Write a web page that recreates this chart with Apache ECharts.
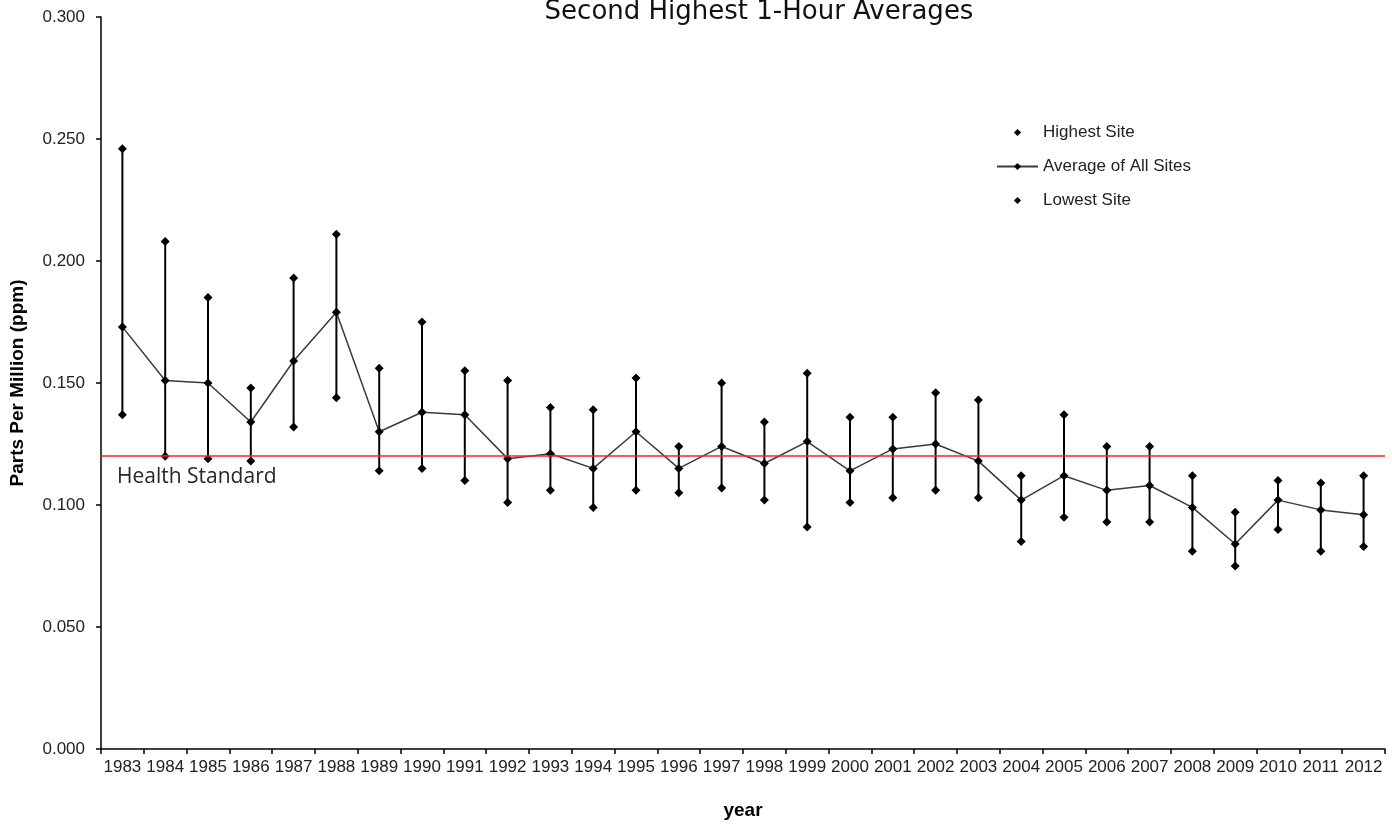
<!DOCTYPE html>
<html>
<head>
<meta charset="utf-8">
<title>Second Highest 1-Hour Averages</title>
<script src="https://cdn.jsdelivr.net/npm/echarts@6/dist/echarts.min.js"></script>
<style>
  html, body { margin: 0; padding: 0; background: #fff; }
  #chart { width: 1392px; height: 825px; }
</style>
</head>
<body>
<div id="chart"></div>
<script>
const years = ["1983", "1984", "1985", "1986", "1987", "1988", "1989", "1990", "1991", "1992",
  "1993", "1994", "1995", "1996", "1997", "1998", "1999", "2000", "2001", "2002",
  "2003", "2004", "2005", "2006", "2007", "2008", "2009", "2010", "2011", "2012"];

const highestSite = [0.246, 0.208, 0.185, 0.148, 0.193, 0.211, 0.156, 0.175, 0.155, 0.151,
  0.140, 0.139, 0.152, 0.124, 0.150, 0.134, 0.154, 0.136, 0.136, 0.146,
  0.143, 0.112, 0.137, 0.124, 0.124, 0.112, 0.097, 0.110, 0.109, 0.112];

const averageAll = [0.173, 0.151, 0.150, 0.134, 0.159, 0.179, 0.130, 0.138, 0.137, 0.119,
  0.121, 0.115, 0.130, 0.115, 0.124, 0.117, 0.126, 0.114, 0.123, 0.125,
  0.118, 0.102, 0.112, 0.106, 0.108, 0.099, 0.084, 0.102, 0.098, 0.096];

const lowestSite = [0.137, 0.120, 0.119, 0.118, 0.132, 0.144, 0.114, 0.115, 0.110, 0.101,
  0.106, 0.099, 0.106, 0.105, 0.107, 0.102, 0.091, 0.101, 0.103, 0.106,
  0.103, 0.085, 0.095, 0.093, 0.093, 0.081, 0.075, 0.090, 0.081, 0.083];

const healthStandard = 0.12;

const labelFont = "'Liberation Sans', Arial, sans-serif";

let myChart = echarts.init(document.getElementById("chart"));

let rangeData = years.map(function (y, i) {
  return [i, highestSite[i], lowestSite[i]];
});

// highest / lowest are drawn as markers only (hidden line), so the legend keeps a small diamond
let markerOnly = function (name, data) {
  return {
    name: name,
    type: "line",
    data: data,
    symbol: "diamond",
    symbolSize: 9,
    showAllSymbol: true,
    itemStyle: { color: "#000" },
    lineStyle: { width: 0, opacity: 0 },
    z: 3
  };
};

let option = {
  backgroundColor: "#fff",
  animation: false,
  title: {
    text: "Second Highest 1-Hour Averages",
    left: 754,
    top: -6,
    textAlign: "center",
    textStyle: {
      fontFamily: "'DejaVu Sans', Verdana, sans-serif",
      fontSize: 26,
      fontWeight: "normal",
      color: "#111"
    }
  },
  legend: {
    orient: "vertical",
    left: 991,
    top: 119,
    itemWidth: 41,
    itemHeight: 9,
    itemGap: 17,
    textStyle: { fontFamily: labelFont, fontSize: 17, color: "#222" },
    data: ["Highest Site", "Average of All Sites", "Lowest Site"]
  },
  grid: {
    left: 99,
    right: 7,
    top: 17,
    bottom: 76
  },
  xAxis: {
    type: "category",
    data: years,
    name: "year",
    nameLocation: "middle",
    nameGap: 52,
    nameTextStyle: { fontFamily: labelFont, fontSize: 19, fontWeight: "bold", color: "#000" },
    axisLine: { lineStyle: { color: "#000", width: 1.5 } },
    axisTick: { show: true, length: 5, lineStyle: { color: "#000", width: 1.5 } },
    axisLabel: { interval: 0, margin: 10, fontFamily: labelFont, fontSize: 17, color: "#222" },
    splitLine: { show: false }
  },
  yAxis: {
    type: "value",
    min: 0,
    max: 0.3,
    interval: 0.05,
    name: "Parts Per Million (ppm)",
    nameLocation: "middle",
    nameGap: 74,
    nameTextStyle: { fontFamily: labelFont, fontSize: 19, fontWeight: "bold", color: "#000" },
    axisLine: { show: true, lineStyle: { color: "#000", width: 1.5 } },
    axisTick: { show: true, length: 5, lineStyle: { color: "#000", width: 1.5 } },
    axisLabel: {
      margin: 16,
      fontFamily: labelFont,
      fontSize: 17,
      color: "#222",
      formatter: function (v) { return v.toFixed(3); }
    },
    splitLine: { show: false }
  },
  series: [
    {
      name: "range",
      type: "custom",
      data: rangeData,
      encode: { x: 0, y: [1, 2] },
      z: 1,
      renderItem: function (params, api) {
        let top = api.coord([api.value(0), api.value(1)]);
        let bottom = api.coord([api.value(0), api.value(2)]);
        return {
          type: "line",
          shape: { x1: top[0], y1: top[1], x2: bottom[0], y2: bottom[1] },
          style: { stroke: "#000", lineWidth: 2 }
        };
      }
    },
    markerOnly("Highest Site", highestSite),
    {
      name: "Average of All Sites",
      type: "line",
      data: averageAll,
      symbol: "diamond",
      symbolSize: 9,
      showAllSymbol: true,
      itemStyle: { color: "#000" },
      lineStyle: { color: "#3a3a3a", width: 1.5 },
      z: 3,
      markLine: {
        silent: true,
        symbol: "none",
        lineStyle: { color: "#ff2020", width: 1.5, type: "solid" },
        label: {
          show: true,
          position: "insideStartBottom",
          formatter: "Health Standard",
          fontFamily: "'Open Sans', 'Liberation Sans', sans-serif",
          fontSize: 21,
          color: "#262626",
          distance: [16, 10]
        },
        data: [{ yAxis: healthStandard }]
      }
    },
    markerOnly("Lowest Site", lowestSite)
  ]
};

myChart.setOption(option);

window.addEventListener("resize", function () {
  myChart.resize();
});
</script>
</body>
</html>
